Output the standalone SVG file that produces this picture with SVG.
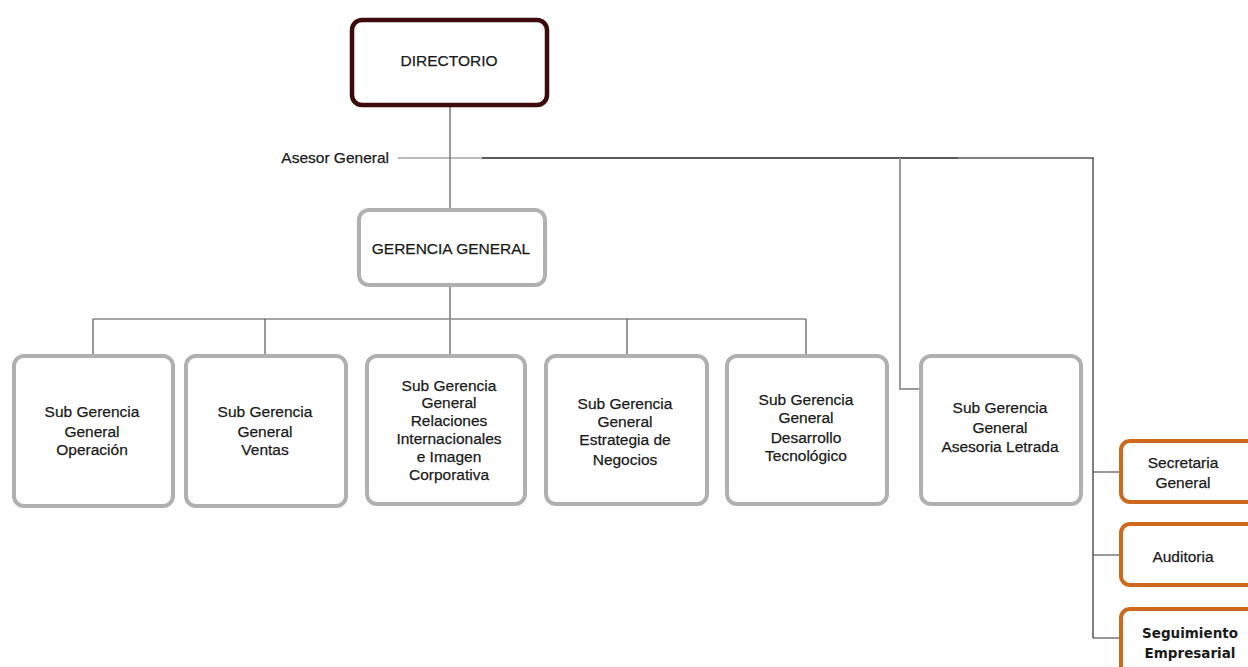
<svg xmlns="http://www.w3.org/2000/svg" width="1248" height="667" viewBox="0 0 1248 667">
  <style>
    .t { font-family: "Liberation Sans", Arial, sans-serif; font-size: 15.5px; fill: #1a1a1a; stroke: #1a1a1a; stroke-width: 0.25; text-anchor: middle; }
    .tb { font-family: "DejaVu Sans", Verdana, sans-serif; font-size: 13.5px; fill: #1a1a1a; text-anchor: middle; font-weight: bold; }
    .dir { fill: #fff; stroke: #3c0a0a; stroke-width: 4.5; }
    .gray { fill: #fff; stroke: #b0b0b0; stroke-width: 4; }
    .orange { fill: #fff; stroke: #d0681c; stroke-width: 4; }
    .ln { fill: none; stroke: #555; stroke-width: 1.2; }
    .lg { fill: none; stroke: #9a9a9a; stroke-width: 2; }
  </style>
  <rect width="1248" height="667" fill="#fff"/>

  <!-- connectors -->
  <g id="connectors">
    <line class="lg" x1="450" y1="105" x2="450" y2="210"/>
    <line x1="398" y1="158" x2="482" y2="158" stroke="#777" stroke-width="1"/>
    <line x1="482" y1="158" x2="958" y2="158" stroke="#222" stroke-width="1.5"/>
    <line x1="958" y1="158" x2="1094" y2="158" stroke="#555" stroke-width="1.3"/>
    <polyline class="lg" points="900,158 900,389 920,389" stroke-width="1.6"/>
    <line x1="1093" y1="158" x2="1093" y2="638" stroke="#555" stroke-width="1.5"/>
    <line class="ln" x1="1093" y1="472" x2="1120" y2="472"/>
    <line class="ln" x1="1093" y1="555" x2="1120" y2="555"/>
    <line class="ln" x1="1093" y1="638" x2="1120" y2="638"/>
    <line class="ln" x1="450" y1="285" x2="450" y2="355"/>
    <line x1="93" y1="319" x2="806" y2="319" stroke="#888" stroke-width="1.5"/>
    <line class="ln" x1="93" y1="319" x2="93" y2="355"/>
    <line class="ln" x1="265" y1="319" x2="265" y2="355"/>
    <line class="ln" x1="627" y1="319" x2="627" y2="355"/>
    <line class="ln" x1="806" y1="319" x2="806" y2="355"/>
  </g>

  <g id="directorio">
    <rect class="dir" x="352" y="20" width="195" height="85" rx="10"/>
    <text class="t" x="449" y="66">DIRECTORIO</text>
  </g>

  <text id="asesor-general" class="t" x="389" y="163" style="text-anchor:end">Asesor General</text>

  <g id="gerencia-general">
    <rect class="gray" x="359" y="210" width="186" height="75" rx="10"/>
    <text class="t" x="451" y="254">GERENCIA GENERAL</text>
  </g>

  <g id="sg-operacion">
    <rect class="gray" x="14" y="356" width="159" height="150" rx="10"/>
    <text class="t" x="92" y="417">Sub Gerencia</text>
    <text class="t" x="92" y="437">General</text>
    <text class="t" x="92" y="455">Operación</text>
  </g>

  <g id="sg-ventas">
    <rect class="gray" x="186" y="356" width="160" height="150" rx="10"/>
    <text class="t" x="265" y="417">Sub Gerencia</text>
    <text class="t" x="265" y="437">General</text>
    <text class="t" x="265" y="455">Ventas</text>
  </g>

  <g id="sg-relaciones">
    <rect class="gray" x="367" y="356" width="158" height="148" rx="10"/>
    <text class="t" x="449" y="391">Sub Gerencia</text>
    <text class="t" x="449" y="408">General</text>
    <text class="t" x="449" y="426">Relaciones</text>
    <text class="t" x="449" y="444">Internacionales</text>
    <text class="t" x="449" y="462">e Imagen</text>
    <text class="t" x="449" y="480">Corporativa</text>
  </g>

  <g id="sg-estrategia">
    <rect class="gray" x="546" y="356" width="161" height="148" rx="10"/>
    <text class="t" x="625" y="409">Sub Gerencia</text>
    <text class="t" x="625" y="427">General</text>
    <text class="t" x="625" y="445">Estrategia de</text>
    <text class="t" x="625" y="465">Negocios</text>
  </g>

  <g id="sg-desarrollo">
    <rect class="gray" x="727" y="356" width="160" height="148" rx="10"/>
    <text class="t" x="806" y="405">Sub Gerencia</text>
    <text class="t" x="806" y="423">General</text>
    <text class="t" x="806" y="443">Desarrollo</text>
    <text class="t" x="806" y="461">Tecnológico</text>
  </g>

  <g id="sg-asesoria">
    <rect class="gray" x="921" y="356" width="160" height="148" rx="10"/>
    <text class="t" x="1000" y="413">Sub Gerencia</text>
    <text class="t" x="1000" y="433">General</text>
    <text class="t" x="1000" y="452">Asesoria Letrada</text>
  </g>

  <g id="secretaria">
    <rect class="orange" x="1121" y="441" width="140" height="61" rx="9"/>
    <text class="t" x="1183" y="468">Secretaria</text>
    <text class="t" x="1183" y="488">General</text>
  </g>

  <g id="auditoria">
    <rect class="orange" x="1121" y="524" width="140" height="61" rx="9"/>
    <text class="t" x="1183" y="562">Auditoria</text>
  </g>

  <g id="seguimiento">
    <rect class="orange" x="1121" y="609" width="140" height="80" rx="9"/>
    <text class="tb" x="1190" y="638">Seguimiento</text>
    <text class="tb" x="1190" y="658">Empresarial</text>
  </g>
</svg>
